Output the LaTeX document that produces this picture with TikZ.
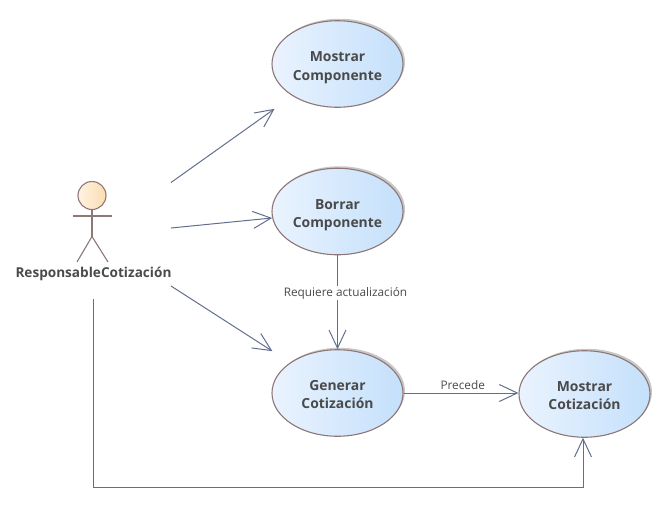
\documentclass[tikz,border=0pt]{standalone}
\usepackage{fontspec}
\setmainfont{Open Sans}
\usetikzlibrary{arrows.meta,shadows,shapes.geometric}
\definecolor{edgeblue}{HTML}{636E8E}
\definecolor{outline}{HTML}{8E7777}
\definecolor{txt}{HTML}{4A4A4A}
\definecolor{ucleft}{HTML}{EAF3FE}
\definecolor{ucright}{HTML}{C4E0FB}
\definecolor{headleft}{HTML}{FFF3E2}
\definecolor{headright}{HTML}{FBDDB0}
\newcommand\ucdrop[1]{\rule{0pt}{#1}}
\tikzset{
  ucase/.style={ellipse,draw=outline,line width=1.1pt,minimum width=131pt,minimum height=86.5pt,inner sep=0pt,
    left color=ucleft,right color=ucright,align=center,text=txt,
    font=\fontsize{13.9}{18.5}\selectfont\bfseries,
    copy shadow={shadow xshift=2pt,shadow yshift=2pt,fill=black,opacity=.22,draw=none}},
  link/.style={draw=edgeblue,line width=1pt,-{Straight Barb[length=18pt,width=17pt,line width=1pt]}},
  linklabel/.style={text=txt,font=\fontsize{11.8}{13}\selectfont,inner sep=1pt},
  limb/.style={draw=outline,line width=1.1pt},
}
\begin{document}
\begin{tikzpicture}[x=1pt,y=-1pt]
\useasboundingbox (0,0) rectangle (667,515);
\node[ucase] (mc) at (337.5,64) {\ucdrop{17pt}Mostrar\\Componente};
\node[ucase] (bc) at (337.5,211.5) {\ucdrop{17pt}Borrar\\Componente};
\node[ucase] (gc) at (337.5,393) {\ucdrop{13pt}Generar\\Cotización};
\node[ucase] (mz) at (584.5,394) {\ucdrop{13pt}Mostrar\\Cotización};
% actor
\node[circle,draw=outline,line width=1.1pt,minimum size=28pt,inner sep=0pt,left color=headleft,right color=headright] (head) at (92,195.5) {};
\coordinate (hip) at (92,236.5);
\coordinate (armL) at (73,216);
\coordinate (armR) at (112,216);
\coordinate (legL) at (77,262);
\coordinate (legR) at (108,262);
\draw[limb] (head.south) -- (hip);
\draw[limb] (armL) -- (armR);
\draw[limb] (legL) -- (hip) -- (legR);
\node[text=txt,font=\fontsize{13.6}{15}\selectfont\bfseries,inner sep=0pt] (actor) at (93.5,274) {ResponsableCotización};
% connector ends
\coordinate (a1) at (171,182.5);
\coordinate (a2) at (171,228);
\coordinate (a3) at (171,286);
\coordinate (a4) at (93,299);
\coordinate (c4) at (93,487);
\draw[link,shorten >=22pt] (a1) -- (mc);
\draw[link,shorten >=0pt] (a2) -- (bc);
\draw[link,shorten >=21pt] (a3) -- (gc);
\draw[link] (a4) -- (c4) -| ([xshift=-1.5pt]mz.south);
\draw[link] (bc.south) -- node[fill=white,linklabel,pos=.39,xshift=8pt,yshift=-1pt] {Requiere actualización} (gc.north);
\draw[link] (gc.east) -- node[linklabel,above=1.5pt,pos=.515] {Precede} (gc.east -| mz.west);
\end{tikzpicture}
\end{document}
